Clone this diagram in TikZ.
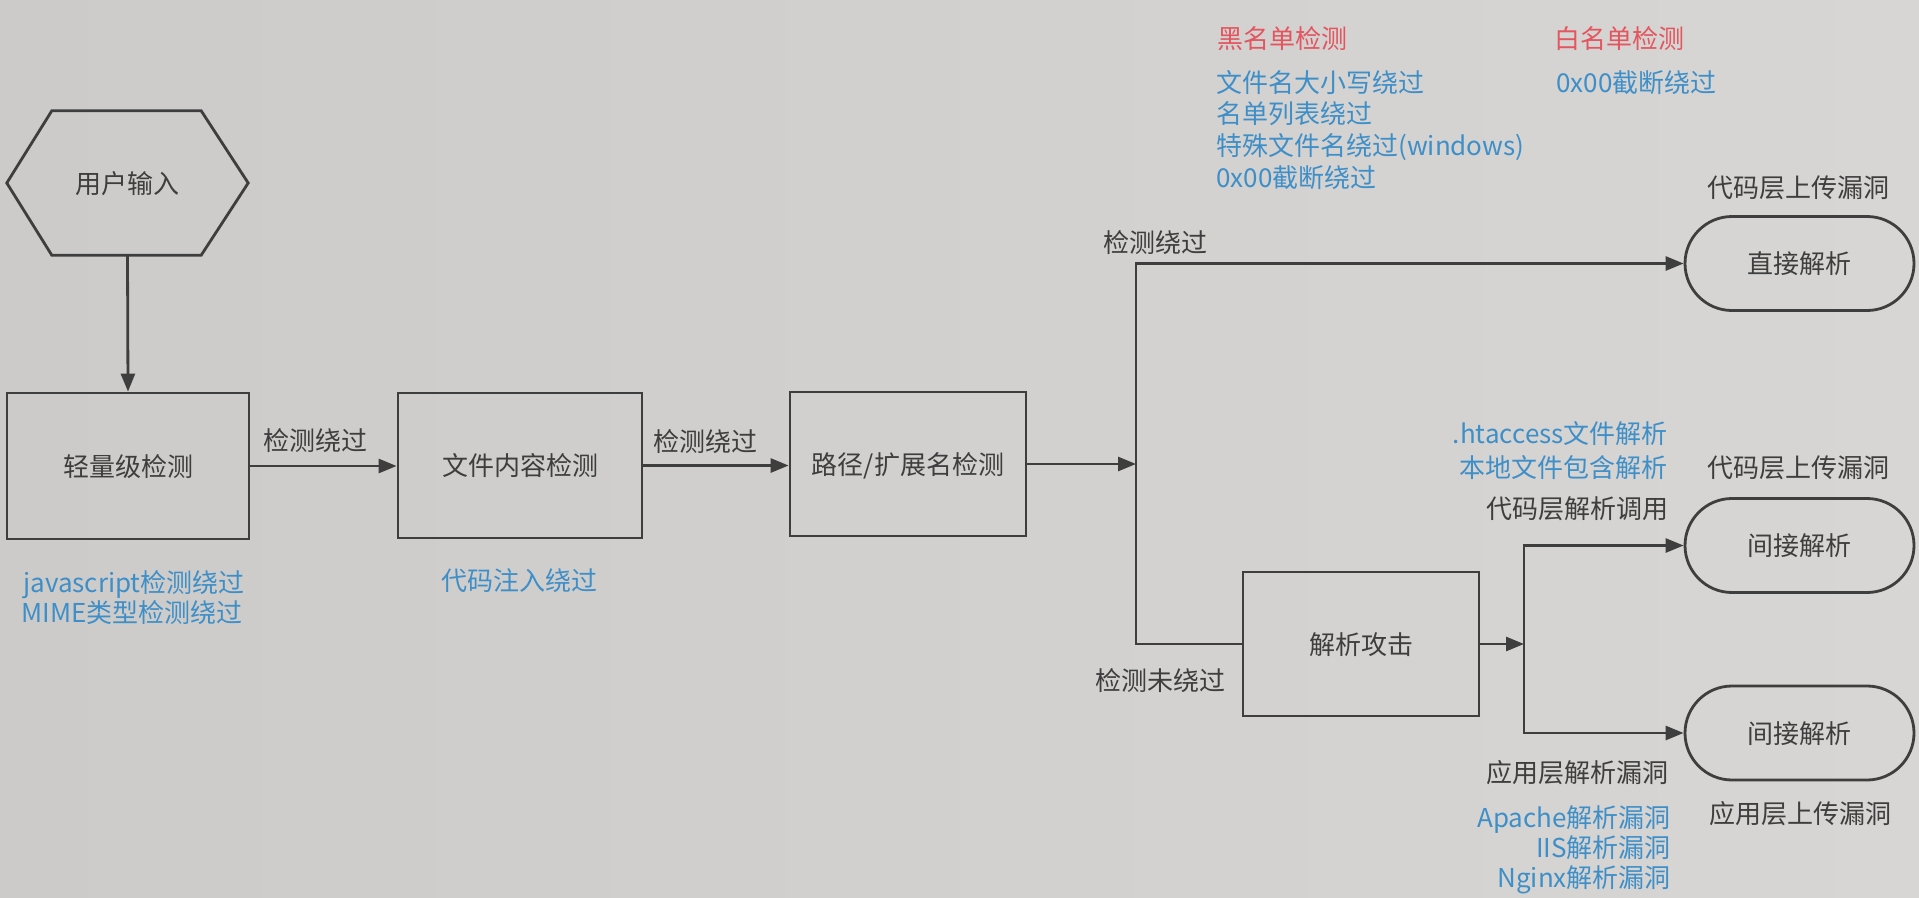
\documentclass[tikz,border=0pt]{standalone}
\usepackage{fontspec}
\setmainfont{Noto Sans CJK SC}
\usetikzlibrary{arrows.meta,shapes.misc,calc}
\definecolor{bgl}{HTML}{CDCBC9}
\definecolor{bgm}{HTML}{DFDDDB}
\definecolor{bgr}{HTML}{D8D6D4}
\definecolor{ink}{HTML}{3E3E3E}
\definecolor{blu}{HTML}{3E8FC8}
\definecolor{rd}{HTML}{E3555F}
\begin{document}
\begin{tikzpicture}[x=1pt,y=-1pt,
  every node/.style={font=\fontsize{26pt}{30pt}\selectfont, text=ink, inner sep=0pt, text height=23pt, text depth=3pt},
  box/.style={draw=ink, line width=2.8pt, rectangle},
  term/.style={draw=ink, line width=2.8pt, rounded rectangle, minimum width=229pt, minimum height=94pt},
  conn/.style={draw=ink, line width=2.8pt},
  arr/.style={conn, -{Triangle[length=18pt,width=14pt]}},
  note/.style={text=blu},
  head/.style={text=rd}]
\shade[left color=bgl, middle color=bgm, right color=bgr] (0,0) rectangle (1919,897);
\useasboundingbox (0,0) rectangle (1919,897);
% main nodes
\node[minimum width=241pt, minimum height=144pt] (hex) at (127.5,183) {用户输入};
\draw[conn, line join=miter] (hex.west) -- ($(hex.north west)+(45,0)$) -- ($(hex.north east)+(-47,0)$) -- (hex.east) -- ($(hex.south east)+(-47,0)$) -- ($(hex.south west)+(45,0)$) -- cycle;
\node[box, minimum width=242pt, minimum height=146pt] (b1) at (128,466) {轻量级检测};
\node[box, minimum width=244pt, minimum height=145pt] (b2) at (520,465.5) {文件内容检测};
\node[box, minimum width=236pt, minimum height=144pt] (b3) at (908,464) {路径/扩展名检测};
\node[box, minimum width=236pt, minimum height=144pt] (b4) at (1361,644) {解析攻击};
\node[term] (t1) at (1799.5,263.5) {直接解析};
\node[term] (t2) at (1799.5,545.5) {间接解析};
\node[term] (t3) at (1799.5,733) {间接解析};
% junctions
\coordinate (j1) at (1136,464);
\coordinate (jt) at (1136,263.5);
\coordinate (jb) at (1136,644);
\coordinate (k) at (1524,644);
\coordinate (kt) at (1524,545.5);
\coordinate (kb) at (1524,733);
% connectors
\draw[arr] (hex.south) -- (b1.north);
\draw[arr] (b1.east) -- (b1.east -| b2.west);
\draw[arr] (b2.east) -- (b2.east -| b3.west);
\draw[arr] (b3.east) -- (j1);
\draw[arr, line join=miter] (b4.west) -- (jb) -- (jt) -- (t1.west);
\draw[arr] (b4.east) -- (k);
\draw[arr, line join=miter] (kb) -- (kt) -- (t2.west);
\draw[arr, line join=miter] (kt) -- (kb) -- (t3.west);
% connector labels
\node (l1) at (315,440) {检测绕过};
\node (l2) at (705,441) {检测绕过};
\node (l3) at (1155,242) {检测绕过};
\node (l4) at (1160,680) {检测未绕过};
\node[anchor=east] (l5) at (1669,508) {代码层解析调用};
\node[anchor=east] (l6) at (1669,772) {应用层解析漏洞};
\node (u1) at (1798,187) {代码层上传漏洞};
\node (u2) at (1798,467) {代码层上传漏洞};
\node (u3) at (1800,813) {应用层上传漏洞};
% notes
\node[note] (n1) at (134,582) {javascript检测绕过};
\node[note] (n2) at (132,612) {MIME类型检测绕过};
\node[note] (n3) at (519,580) {代码注入绕过};
\node[head, anchor=west] (h1) at (1217,38) {黑名单检测};
\node[note, anchor=west] (n4) at (1216,82) {文件名大小写绕过};
\node[note, anchor=west] (n5) at (1216,113) {名单列表绕过};
\node[note, anchor=west] (n6) at (1216,145) {特殊文件名绕过(windows)};
\node[note, anchor=west] (n7) at (1216,177) {0x00截断绕过};
\node[head, anchor=west] (h2) at (1554,38) {白名单检测};
\node[note, anchor=west] (n8) at (1556,82) {0x00截断绕过};
\node[note, anchor=east] (n9) at (1668,433) {.htaccess文件解析};
\node[note, anchor=east] (n10) at (1668,467) {本地文件包含解析};
\node[note, anchor=east] (n11) at (1671,817) {Apache解析漏洞};
\node[note, anchor=east] (n12) at (1671,847) {IIS解析漏洞};
\node[note, anchor=east] (n13) at (1671,877) {Nginx解析漏洞};
\end{tikzpicture}
\end{document}
